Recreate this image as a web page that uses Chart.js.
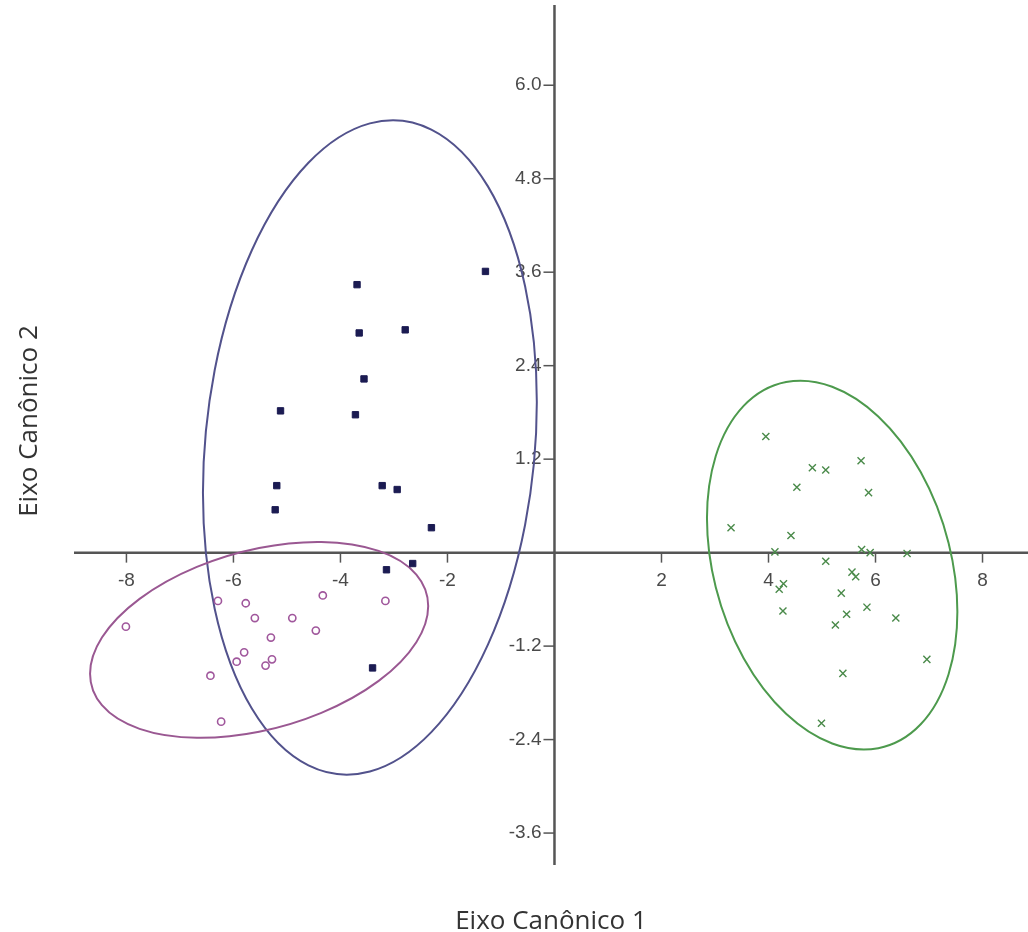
<!DOCTYPE html>
<html>
<head>
<meta charset="utf-8">
<title>Eixos canônicos</title>
<script src="https://cdn.jsdelivr.net/npm/chart.js@4/dist/chart.umd.min.js"></script>
<style>
  html, body { margin: 0; padding: 0; background: #ffffff; }
  #chart { display: block; }
</style>
</head>
<body>
<canvas id="chart" width="1028" height="932"></canvas>
<script>
// Group 1 (filled squares)
const squaresX = [-1.29, -3.69, -3.65, -2.79, -3.56, -5.12, -3.72, -5.19, -5.22, -3.22, -2.94, -2.30, -2.65, -3.14, -3.40];
const squaresY = [3.61, 3.44, 2.82, 2.86, 2.23, 1.82, 1.77, 0.86, 0.55, 0.86, 0.81, 0.32, -0.14, -0.22, -1.48];

// Group 2 (open circles)
const circlesX = [-8.01, -6.29, -5.77, -5.60, -4.90, -4.33, -4.46, -3.16, -5.30, -5.80, -5.94, -5.28, -5.40, -6.43, -6.23];
const circlesY = [-0.95, -0.62, -0.65, -0.84, -0.84, -0.55, -1.00, -0.62, -1.09, -1.28, -1.40, -1.37, -1.45, -1.58, -2.17];

// Group 3 (crosses)
const crossesX = [3.95, 4.82, 5.07, 5.73, 4.53, 5.87, 3.30, 4.42, 4.12, 5.74, 5.90, 6.59, 5.07, 5.56, 5.63, 4.28, 4.20, 5.36, 4.27, 5.84, 5.46, 5.25, 6.38, 6.96, 5.39, 4.99];
const crossesY = [1.49, 1.09, 1.06, 1.18, 0.84, 0.77, 0.32, 0.22, 0.01, 0.04, 0.00, -0.01, -0.11, -0.25, -0.31, -0.40, -0.47, -0.52, -0.75, -0.70, -0.79, -0.93, -0.84, -1.37, -1.55, -2.19];

// Ellipses: centre and two conjugate half-axes, in data units
const ellipseCenters = [[-3.45, 1.35], [-5.52, -1.12], [5.19, -0.16]];
const ellipseAxisA = [[3.12, 0.58], [3.16, 0.435], [2.34, -0.60]];
const ellipseAxisB = [[0, -4.16], [0, -1.18], [0, -2.29]];
const ellipseColors = ['#52528c', '#9a5892', '#4d9a4d'];

// Axis ticks
const xTicks = [-8, -6, -4, -2, 2, 4, 6, 8];
const yTicks = [6.0, 4.8, 3.6, 2.4, 1.2, -1.2, -2.4, -3.6];

const toPoints = (xs, ys) => xs.map((x, i) => ({ x: x, y: ys[i] }));

const AXIS_COLOR = '#555555';
const TICK_FONT = '19px "Liberation Sans", Arial, sans-serif';
const TITLE_FONT = '26px "Open Sans", sans-serif';

// Draws ellipses plus the two axes crossing at the origin
const crossAxesPlugin = {
  id: 'crossAxes',
  beforeDatasetsDraw(chart) {
    const { ctx, chartArea, scales: { x, y } } = chart;
    const x0 = x.getPixelForValue(0);
    const y0 = y.getPixelForValue(0);

    ctx.save();

    // axis lines
    ctx.strokeStyle = AXIS_COLOR;
    ctx.lineWidth = 2.5;
    ctx.beginPath();
    ctx.moveTo(chartArea.left, y0);
    ctx.lineTo(chartArea.right, y0);
    ctx.moveTo(x0, chartArea.top);
    ctx.lineTo(x0, chartArea.bottom);
    ctx.stroke();

    // tick marks and labels
    ctx.lineWidth = 1.5;
    ctx.fillStyle = '#4a4a4a';
    ctx.font = TICK_FONT;

    ctx.textAlign = 'center';
    ctx.textBaseline = 'middle';
    xTicks.forEach(v => {
      const px = x.getPixelForValue(v);
      ctx.beginPath();
      ctx.moveTo(px, y0);
      ctx.lineTo(px, y0 + 10);
      ctx.stroke();
      ctx.fillText(String(v), px, y0 + 28);
    });

    ctx.textAlign = 'right';
    yTicks.forEach(v => {
      const py = y.getPixelForValue(v);
      ctx.beginPath();
      ctx.moveTo(x0 - 11, py);
      ctx.lineTo(x0, py);
      ctx.stroke();
      ctx.fillText(v.toFixed(1), x0 - 13, py);
    });

    // ellipses, mapped from data space through the scales
    ellipseCenters.forEach((c, i) => {
      const cx = x.getPixelForValue(c[0]);
      const cy = y.getPixelForValue(c[1]);
      const a = ellipseAxisA[i];
      const b = ellipseAxisB[i];
      const ax = x.getPixelForValue(c[0] + a[0]) - cx;
      const ay = y.getPixelForValue(c[1] + a[1]) - cy;
      const bx = x.getPixelForValue(c[0] + b[0]) - cx;
      const by = y.getPixelForValue(c[1] + b[1]) - cy;
      ctx.save();
      ctx.beginPath();
      ctx.transform(ax, ay, bx, by, cx, cy);
      ctx.arc(0, 0, 1, 0, Math.PI * 2);
      ctx.restore();
      ctx.strokeStyle = ellipseColors[i];
      ctx.lineWidth = 2;
      ctx.stroke();
    });

    // axis titles
    ctx.fillStyle = '#333333';
    ctx.font = TITLE_FONT;
    ctx.textAlign = 'center';
    ctx.textBaseline = 'alphabetic';
    ctx.fillText('Eixo Canônico 1', 551, 929);

    ctx.translate(37, 421);
    ctx.rotate(-Math.PI / 2);
    ctx.fillText('Eixo Canônico 2', 0, 0);

    ctx.restore();
  }
};

const chart = new Chart(document.getElementById('chart'), {
  type: 'scatter',
  data: {
    datasets: [
      {
        label: 'Grupo 1',
        data: toPoints(squaresX, squaresY),
        pointStyle: 'rect',
        pointRadius: 4.5,
        backgroundColor: '#1b1b52',
        borderColor: '#1b1b52',
        borderWidth: 1
      },
      {
        label: 'Grupo 2',
        data: toPoints(circlesX, circlesY),
        pointStyle: 'circle',
        pointRadius: 3.6,
        backgroundColor: 'rgba(255,255,255,0)',
        borderColor: '#a0579c',
        borderWidth: 1.6
      },
      {
        label: 'Grupo 3',
        data: toPoints(crossesX, crossesY),
        pointStyle: 'crossRot',
        pointRadius: 5,
        backgroundColor: '#4a8a4a',
        borderColor: '#4a8a4a',
        borderWidth: 1.4
      }
    ]
  },
  options: {
    responsive: false,
    animation: false,
    devicePixelRatio: 1,
    layout: {
      autoPadding: false,
      padding: { left: 74, right: 0, top: 5, bottom: 67 }
    },
    scales: {
      x: { type: 'linear', min: -8.98, max: 8.85, display: false },
      y: { type: 'linear', min: -4.01, max: 7.03, display: false }
    },
    plugins: {
      legend: { display: false },
      tooltip: { enabled: false }
    }
  },
  plugins: [crossAxesPlugin]
});
</script>
</body>
</html>
